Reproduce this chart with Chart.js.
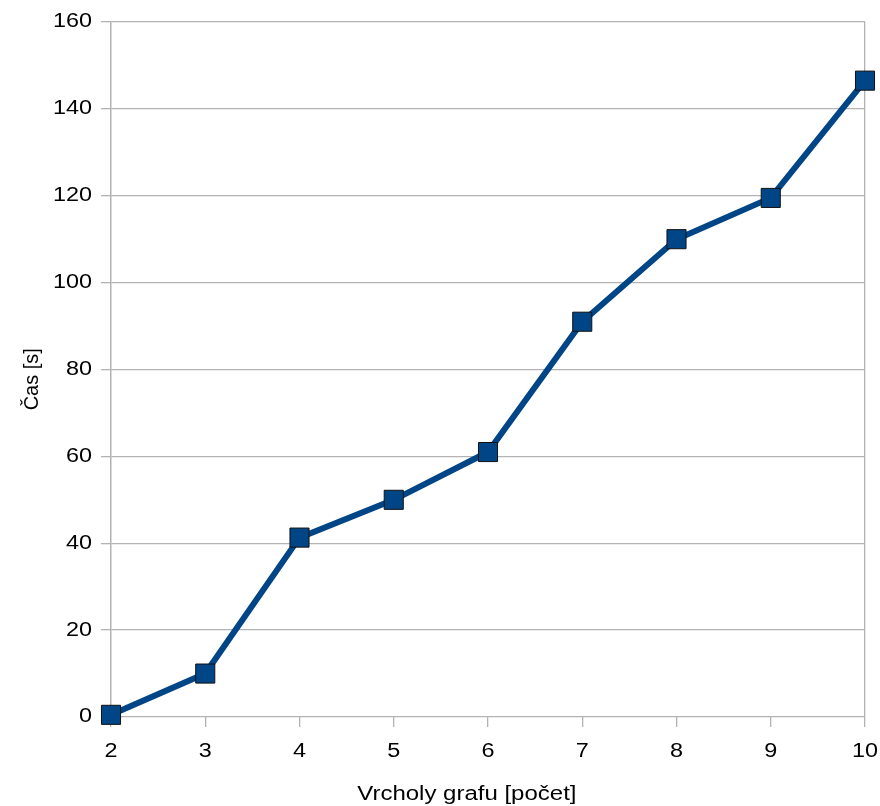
<!DOCTYPE html>
<html><head><meta charset="utf-8">
<script src="https://cdn.jsdelivr.net/npm/chart.js@4/dist/chart.umd.min.js"></script>
<style>html,body{margin:0;padding:0;background:#fff}#wrap{width:880px;height:806px}</style>
</head><body><div id="wrap"><canvas id="c" width="880" height="806"></canvas></div>
<script>
const vertices = [2, 3, 4, 5, 6, 7, 8, 9, 10];
const times = [0.5, 10, 41.3, 50, 61, 91, 110, 119.5, 146.5];
const xTitle = 'Vrcholy grafu [počet]';
const yTitle = 'Čas [s]';
const GRID = '#b3b3b3';
const FONT = '"Liberation Sans", Arial, sans-serif';
const STRETCH_X = 1.2; // reference text is horizontally widened

const canvas = document.getElementById('c');
const ctx2d = canvas.getContext('2d');
const origFillText = ctx2d.fillText;
ctx2d.fillText = function (text, x, y, maxWidth) {
  const m = this.getTransform();
  const px = m.a * x + m.c * y + m.e;
  this.save();
  const s = new DOMMatrix().translate(px, 0).scale(STRETCH_X, 1).translate(-px, 0).multiply(m);
  this.setTransform(s);
  if (maxWidth === undefined) origFillText.call(this, text, x, y);
  else origFillText.call(this, text, x, y, maxWidth);
  this.restore();
};

// Axis titles placed as in the reference (slightly off-centre from the plot area)
const axisTitles = {
  id: 'axisTitles',
  afterDraw(chart) {
    const {ctx, chartArea: a} = chart;
    ctx.save();
    ctx.fillStyle = '#000';
    ctx.font = '20px ' + FONT;
    ctx.textAlign = 'center';
    ctx.textBaseline = 'alphabetic';
    // x title
    ctx.fillText(xTitle, a.left + (a.right - a.left) * 0.472, a.bottom + 83);
    // y title (rotated, unstretched along its glyph height)
    ctx.translate(a.left - 73.5, a.top + (a.bottom - a.top) * 0.514);
    ctx.rotate(-Math.PI / 2);
    origFillText.call(ctx, yTitle, 0, 0);
    ctx.restore();
  }
};

new Chart(canvas, {
  type: 'line',
  data: {
    datasets: [{
      data: vertices.map((v, i) => ({x: v, y: times[i]})),
      borderColor: '#004586',
      borderWidth: 6,
      backgroundColor: '#004586',
      pointStyle: 'rect',
      pointRadius: 13.5,
      pointHoverRadius: 13.5,
      pointBackgroundColor: '#004586',
      pointBorderColor: '#111',
      pointBorderWidth: 1,
      tension: 0,
      clip: false
    }]
  },
  options: {
    responsive: false,
    animation: false,
    events: [],
    layout: {padding: {top: 22, right: 15, bottom: 0, left: 0}},
    plugins: {legend: {display: false}, tooltip: {enabled: false}},
    scales: {
      x: {
        type: 'linear', min: 2, max: 10,
        afterFit: s => { s.height = 89; s.paddingRight = 0; s.paddingLeft = 0; },
        ticks: {stepSize: 1, color: '#000', font: {family: FONT, size: 19.5}, padding: 13},
        grid: {
          color: c => (c.tick && (c.tick.value === 2 || c.tick.value === 10)) ? GRID : 'rgba(0,0,0,0)',
          tickColor: GRID, tickLength: 10, lineWidth: 1.3
        },
        border: {display: false},
        title: {display: false, text: xTitle}
      },
      y: {
        min: 0, max: 160,
        afterFit: s => { s.width = 111; s.paddingTop = 0; s.paddingBottom = 0; },
        ticks: {stepSize: 20, color: '#000', font: {family: FONT, size: 19.5}, padding: 9},
        grid: {color: GRID, tickColor: GRID, tickLength: 10, lineWidth: 1.3},
        border: {display: true, color: GRID, width: 1.3},
        title: {display: false, text: yTitle}
      }
    }
  },
  plugins: [axisTitles]
});
</script></body></html>
